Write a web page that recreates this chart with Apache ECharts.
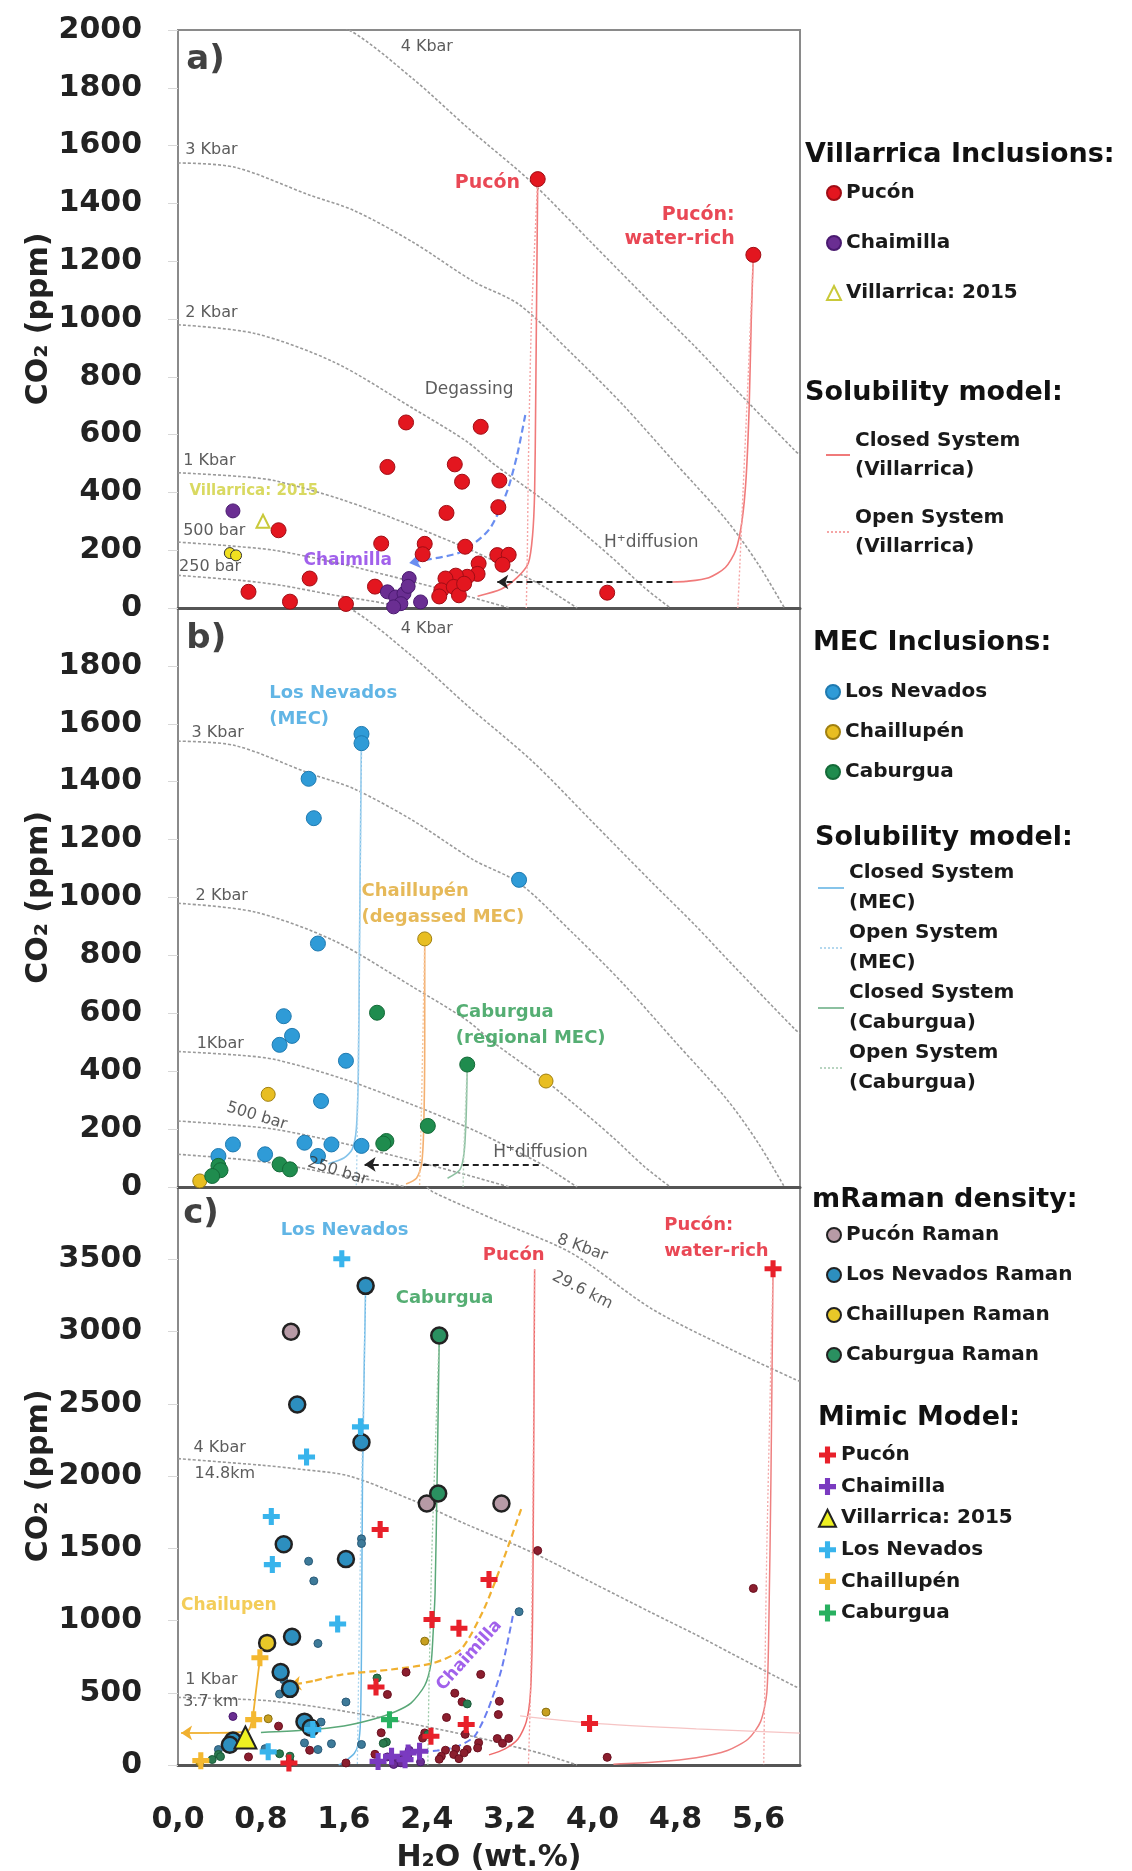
<!DOCTYPE html>
<html><head><meta charset="utf-8">
<script src="https://cdn.jsdelivr.net/npm/echarts@6/dist/echarts.min.js"></script>
<style>html,body{margin:0;padding:0;background:#fff}#c{width:1132px;height:1871px}</style>
</head><body><div id="c"></div>
<script>
// ---------- DATA (H2O wt.%, CO2 ppm) ----------
// panel a: Villarrica inclusions
const pucon = [[3.47,1484],[5.55,1222],[2.20,642],[2.92,627],[2.02,488],[2.67,497],[2.74,437],[3.10,441],[3.09,349],[2.59,329],[0.97,269],[1.96,223],[2.38,222],[2.36,186],[2.77,212],[3.08,183],[3.19,184],[3.13,150],[2.90,154],[2.89,118],[2.79,108],[2.68,112],[2.58,102],[2.54,61],[2.66,73],[2.71,44],[2.76,84],[1.27,102],[0.68,56],[1.08,22],[1.62,14],[1.90,74],[4.14,53],[2.52,40]];
const chaimilla = [[0.53,336],[2.23,102],[2.02,56],[2.10,38],[2.18,50],[2.34,21],[2.15,15],[2.08,4],[2.22,75]];
const villarrica2015 = [[0.82,300]];
const villarricaSamples = [[0.50,190],[0.56,182]];
// panel b: MEC inclusions
const losNevados = [[1.77,1565],[1.77,1533],[1.26,1410],[1.31,1274],[3.29,1061],[1.35,841],[1.02,590],[1.10,522],[0.98,491],[1.62,436],[1.38,297],[0.53,147],[0.84,113],[1.22,153],[1.48,147],[1.35,107],[1.77,142],[0.39,107]];
const chaillupen = [[2.38,857],[0.87,320],[3.55,366],[0.21,21]];
const caburgua = [[1.92,602],[2.79,423],[2.41,211],[2.01,159],[1.98,150],[0.98,78],[1.08,61],[0.39,73],[0.41,58],[0.33,38]];
// panel c: Raman density
const puconRaman = [[1.09,2998],[2.40,1810],[3.12,1810]];
const losNevadosRaman = [[1.81,3316],[1.15,2495],[1.77,2233],[1.02,1528],[1.62,1425],[1.10,887],[0.99,643],[1.08,527],[1.22,300],[1.28,258],[0.53,170],[0.50,140]];
const chaillupenRaman = [[0.86,845]];
const caburguaRaman = [[2.52,2972],[2.51,1879]];
// panel c: MIMIC model
const puconMimic = [[5.74,3434],[1.95,1630],[3.00,1284],[2.45,1007],[2.71,946],[1.91,540],[2.78,280],[3.97,287],[2.44,199],[1.07,14]];
const chaimillaMimic = [[1.93,25],[2.06,60],[2.22,83],[2.33,95],[2.19,37]];
const villarricaMimic = [[0.65,190]];
const losNevadosMimic = [[1.58,3503],[1.76,2340],[1.24,2131],[0.90,1720],[0.91,1387],[1.54,976],[1.30,245],[0.87,91]];
const chaillupenMimic = [[0.79,742],[0.22,30],[0.73,314]];
const caburguaMimic = [[2.04,314]];
// isobars
const iso250 = [[0,113],[0.62,95],[1.0,78],[1.5,45],[1.9,22],[2.2,0]];
const iso500 = [[0,228],[0.5,215],[0.94,199],[1.58,152],[2.22,95],[2.7,50],[3.0,20],[3.2,0]];
const iso1k = [[0,468],[0.6,455],[0.94,440],[1.58,375],[2.22,290],[2.86,195],[3.2,135],[3.5,80],[3.7,35],[3.85,0]];
const iso2k = [[0,980],[0.74,950],[1.51,850],[2.27,690],[2.79,575],[3.04,500],[3.5,380],[3.81,290],[4.2,170],[4.5,70],[4.75,0]];
const iso3k = [[0,1540],[0.55,1525],[1.26,1430],[1.7,1375],[2.27,1265],[2.85,1130],[3.29,1050],[3.8,880],[4.3,700],[4.8,500],[5.3,300],[5.6,150],[5.85,0]];
const iso4k = [[0,2120],[0.8,2075],[1.2,2045],[1.65,2000],[2.27,1830],[2.8,1660],[3.42,1470],[4.0,1260],[4.57,1053],[5.0,900],[5.34,771],[5.95,545],[6.0,530]];
const iso8k = [[2.4,4000],[2.46,3965],[3.1,3760],[3.8,3541],[4.57,3157],[5.34,2874],[5.95,2669],[6.0,2655]];
// degassing models, panel a
const puconClosedA = [[3.47,1484],[3.46,1100],[3.45,700],[3.44,400],[3.42,250],[3.38,156],[3.27,105],[3.12,66],[2.89,41]];
const puconOpenA = [[3.47,1484],[3.41,1000],[3.38,500],[3.37,200],[3.36,0]];
const waterRichClosedA = [[5.55,1222],[5.53,1000],[5.51,700],[5.48,450],[5.44,300],[5.38,200],[5.28,140],[5.12,105],[4.9,92],[4.77,90]];
const waterRichOpenA = [[5.55,1222],[5.50,800],[5.45,400],[5.42,150],[5.40,0]];
const chaimillaPathA = [[3.35,668],[3.27,527],[3.17,399],[3.0,271],[2.73,194],[2.43,169]];
const chaimillaArrowA = [[2.43,169],[2.23,156]];
const hDiffusionA = [[4.77,90],[3.08,90]];
// panel b
const lnClosedB = [[1.77,1565],[1.76,1200],[1.75,800],[1.74,400],[1.72,200],[1.68,130],[1.6,100],[1.45,80]];
const lnOpenB = [[1.77,1533],[1.75,800],[1.73,200],[1.72,0]];
const chClosedB = [[2.38,857],[2.38,500],[2.37,200],[2.35,80],[2.3,30],[2.2,10]];
const chOpenB = [[2.38,857],[2.35,300],[2.33,0]];
const cabClosedB = [[2.79,423],[2.78,250],[2.76,120],[2.72,60],[2.6,30]];
const cabOpenB = [[2.79,423],[2.76,150],[2.75,0]];
const hDiffusionB = [[3.48,78],[1.80,78]];
// panel c
const lnClosedC = [[1.81,3316],[1.78,2000],[1.77,800],[1.76,300],[1.74,150],[1.7,80],[1.6,20],[1.55,0]];
const lnOpenC = [[1.81,3316],[1.76,1500],[1.74,500],[1.73,0]];
const cabClosedC = [[2.52,2972],[2.5,2000],[2.48,1200],[2.46,900],[2.44,700],[2.38,550],[2.25,430],[2.1,370],[1.9,320],[1.6,270],[1.2,240],[0.8,225]];
const cabOpenC = [[2.52,2972],[2.45,1500],[2.42,500],[2.41,0]];
const puconClosedC = [[3.44,3430],[3.43,2000],[3.42,1000],[3.40,500],[3.36,300],[3.28,180],[3.15,110],[3.0,70]];
const puconOpenC = [[3.44,3430],[3.42,1500],[3.4,500],[3.38,0]];
const waterRichClosedC = [[5.74,3434],[5.72,2000],[5.70,1000],[5.68,500],[5.62,300],[5.5,180],[5.3,100],[5.0,50],[4.6,20],[4.2,5]];
const waterRichOpenC = [[5.74,3434],[5.68,1500],[5.65,0]];
const chailDashC = [[3.31,1771],[3.14,1424],[2.95,1077],[2.73,800],[2.47,707],[2.06,661],[1.58,626],[1.3,580]];
const chailDashArrowC = [[1.3,580],[1.08,553]];
const chailSolidC = [[0.79,733],[0.75,500],[0.72,330],[0.68,240],[0.55,225],[0.3,222]];
const chailSolidArrowC = [[0.3,222],[0.03,222]];
const chaimillaPathC = [[3.23,1031],[3.12,661],[2.99,383],[2.86,199],[2.7,130],[2.5,100],[2.3,90]];
const faintPathC = [[3.3,340],[3.98,290],[5.0,250],[6.0,220]];
// axes
const xMin = 0, xMax = 6, xStep = 0.8;
const yMaxAB = 2000, yStepAB = 200, yMaxC = 4000, yStepC = 500;

// ---------- STYLE / LAYOUT ----------
const FONT = '"DejaVu Sans", sans-serif';
const PLUS = 'path://M35,0 H65 V35 H100 V65 H65 V100 H35 V65 H0 V35 H35 Z';
const DOTS = 'path://M0,0h2v2h-2z M4,0h2v2h-2z M8,0h2v2h-2z M12,0h2v2h-2z M16,0h2v2h-2z M20,0h2v2h-2z';
const isoStyle = {color:'#9a9a9a', width:1.6, type:[3,2]};

function line(name, data, i, color, width, type, z){
  return {type:'line', name:name, xAxisIndex:i, yAxisIndex:i, data:data, showSymbol:false, symbol:'none',
    smooth:0.25, silent:true, z:z||2, itemStyle:{color:color}, lineStyle:{color:color, width:width||1.5, type:type||'solid'}};
}
function arrow(data, i, color, width, type){
  return {type:'lines', coordinateSystem:'cartesian2d', xAxisIndex:i, yAxisIndex:i, silent:true, z:3,
    symbol:['none','arrow'], symbolSize:11,
    lineStyle:{color:color, width:width||2, type:type||'dashed', opacity:1},
    data:[{coords:data}]};
}
function dots(name, data, i, color, border, size, symbol, bw){
  return {type:'scatter', name:name, xAxisIndex:i, yAxisIndex:i, data:data, symbol:symbol||'circle',
    symbolSize:size, silent:true, z:5,
    itemStyle:{color:color, borderColor:border, borderWidth:bw==null?1:bw, opacity:1}};
}
function labels(list, i){
  return {type:'scatter', xAxisIndex:i, yAxisIndex:i, symbolSize:1, silent:true, clip:false, z:10,
    itemStyle:{color:'rgba(0,0,0,0)'},
    data:list.map(l=>({value:[l.x,l.y], label:{show:true, position:'inside', formatter:l.t,
      align:l.al||'left', verticalAlign:'middle', rotate:l.r||0, color:l.c||'#333',
      fontSize:l.s||16, fontWeight:l.b?'bold':'normal', fontFamily:FONT, lineHeight:l.lh||(l.s||16)+4}}))};
}
function isos(list, i){ return list.map(d=>({type:'line', xAxisIndex:i, yAxisIndex:i, data:d, showSymbol:false, symbol:'none', smooth:0.3, silent:true, z:1, lineStyle:isoStyle})); }

const labelsA = [
 {t:'a)', x:0.08, y:1895, s:34, b:1, c:'#111'},
 {t:'4 Kbar', x:2.40, y:1941, al:'center'},
 {t:'3 Kbar', x:0.07, y:1587},
 {t:'2 Kbar', x:0.07, y:1020},
 {t:'1 Kbar', x:0.05, y:508},
 {t:'500 bar', x:0.05, y:268},
 {t:'250 bar', x:0.01, y:143},
 {t:'Villarrica: 2015', x:0.11, y:405, c:'#cfcf3a', b:1, s:15},
 {t:'Pucón', x:3.30, y:1472, al:'right', c:'#e31a2a', b:1, s:19},
 {t:'Pucón:\nwater-rich', x:5.37, y:1318, al:'right', c:'#e31a2a', b:1, s:19, lh:24},
 {t:'Degassing', x:2.38, y:757, s:17},
 {t:'H⁺diffusion', x:4.11, y:226, s:17},
 {t:'Chaimilla', x:1.21, y:165, c:'#8a3ae6', b:1, s:17}
];
const labelsB = [
 {t:'b)', x:0.08, y:1891, s:34, b:1, c:'#111'},
 {t:'4 Kbar', x:2.40, y:1929, al:'center'},
 {t:'Los Nevados\n(MEC)', x:0.88, y:1661, c:'#3aa2de', b:1, s:18, lh:26},
 {t:'3 Kbar', x:0.13, y:1568},
 {t:'2 Kbar', x:0.17, y:1004},
 {t:'1Kbar', x:0.18, y:496},
 {t:'500 bar', x:0.76, y:245, al:'center', r:-17},
 {t:'250 bar', x:1.54, y:54, al:'center', r:-17},
 {t:'Chaillupén\n(degassed MEC)', x:1.77, y:978, c:'#e0a830', b:1, s:18, lh:26},
 {t:'Caburgua\n(regional MEC)', x:2.68, y:557, c:'#2a9a50', b:1, s:18, lh:26},
 {t:'H⁺diffusion', x:3.04, y:118, s:17}
];
const labelsC = [
 {t:'c)', x:0.05, y:3811, s:34, b:1, c:'#111'},
 {t:'Los Nevados', x:0.99, y:3700, c:'#3aa2de', b:1, s:18},
 {t:'Caburgua', x:2.10, y:3233, c:'#2a9a50', b:1, s:18},
 {t:'Pucón', x:2.94, y:3528, c:'#e31a2a', b:1, s:18},
 {t:'Pucón:\nwater-rich', x:4.69, y:3644, c:'#e31a2a', b:1, s:18, lh:26},
 {t:'8 Kbar', x:3.90, y:3580, al:'center', r:-20},
 {t:'29.6 km', x:3.90, y:3285, al:'center', r:-27},
 {t:'4 Kbar', x:0.15, y:2195},
 {t:'14.8km', x:0.16, y:2015},
 {t:'Chailupen', x:0.03, y:1105, c:'#f0c030', b:1, s:17},
 {t:'Chaimilla', x:2.81, y:758, c:'#8a3ae6', b:1, s:17, al:'center', r:48},
 {t:'1 Kbar', x:0.07, y:592},
 {t:'3.7 km', x:0.05, y:438}
];

const series = [].concat(
  // panel a
  isos([iso250, iso500, iso1k, iso2k, iso3k, iso4k], 0),
  [
  line('Closed System (Villarrica)', puconClosedA, 0, '#f07a7a', 1.6),
  line('Closed System (Villarrica)', waterRichClosedA, 0, '#f07a7a', 1.6),
  line('Open System (Villarrica)', puconOpenA, 0, '#f5a5a5', 1.4, [2,2]),
  line('Open System (Villarrica)', waterRichOpenA, 0, '#f5a5a5', 1.4, [2,2]),
  line('chaimilla-path-a', chaimillaPathA, 0, '#6a8ef0', 2.2, [7,4]),
  arrow(chaimillaArrowA, 0, '#6a8ef0', 2.2, [7,4]),
  arrow(hDiffusionA, 0, '#222', 2, [6,4]),
  dots('Pucón', pucon, 0, '#e3161f', '#a00d15', 15),
  dots('Chaimilla', chaimilla, 0, '#6a2e92', '#4a1a70', 14),
  dots('Villarrica: 2015', villarrica2015, 0, 'rgba(255,255,255,0)', '#c9c93a', 13, 'triangle', 2),
  dots('villarrica-samples', villarricaSamples, 0, '#f0e020', '#333', 11),
  labels(labelsA, 0)
  ],
  // panel b
  isos([iso250, iso500, iso1k, iso2k, iso3k, iso4k], 1),
  [
  line('Closed System (MEC)', lnClosedB, 1, '#86c4ea', 1.6),
  line('Closed System (MEC)', chClosedB, 1, '#f4b070', 1.6),
  line('Open System (MEC)', lnOpenB, 1, '#b4d8ee', 1.4, [2,2]),
  line('Open System (MEC)', chOpenB, 1, '#f6c8a0', 1.4, [2,2]),
  line('Closed System (Caburgua)', cabClosedB, 1, '#8cc0a0', 1.6),
  line('Open System (Caburgua)', cabOpenB, 1, '#b8d4c0', 1.4, [2,2]),
  arrow(hDiffusionB, 1, '#222', 2, [6,4]),
  dots('Los Nevados', losNevados, 1, '#2f9bd7', '#1f7ab0', 15),
  dots('Chaillupén', chaillupen, 1, '#e8be22', '#a08010', 14),
  dots('Caburgua', caburgua, 1, '#1f8c4e', '#146a38', 15),
  labels(labelsB, 1)
  ],
  // panel c
  isos([iso1k, iso4k, iso8k], 2),
  [
  line('ln-closed-c', lnClosedC, 2, '#6ab8e6', 1.5),
  line('ln-open-c', lnOpenC, 2, '#a8d4ee', 1.3, [2,2]),
  line('cab-closed-c', cabClosedC, 2, '#5aa878', 1.5),
  line('cab-open-c', cabOpenC, 2, '#9ccaa8', 1.3, [2,2]),
  line('pucon-closed-c', puconClosedC, 2, '#ee6b6b', 1.5),
  line('pucon-open-c', puconOpenC, 2, '#f3a0a0', 1.3, [2,2]),
  line('wr-closed-c', waterRichClosedC, 2, '#ee8080', 1.5),
  line('wr-open-c', waterRichOpenC, 2, '#f3a8a8', 1.3, [2,2]),
  line('faint-c', faintPathC, 2, '#f6c4c4', 1.2),
  line('chail-dash-c', chailDashC, 2, '#f0b030', 2.2, [7,4]),
  arrow(chailDashArrowC, 2, '#f0b030', 2.2, [7,4]),
  line('chail-solid-c', chailSolidC, 2, '#f0b030', 1.8),
  arrow(chailSolidArrowC, 2, '#f0b030', 1.8, 'solid'),
  line('chaimilla-path-c', chaimillaPathC, 2, '#6a7ef0', 2, [7,4]),
  dots('pucon-small', pucon, 2, '#8b1e2e', '#6a1020', 8),
  dots('chaimilla-small', chaimilla, 2, '#6a2e92', '#4a1a70', 8),
  dots('ln-small', losNevados, 2, '#3d7a99', '#2a5a78', 8),
  dots('ch-small', chaillupen, 2, '#c8a020', '#8a7010', 8),
  dots('cab-small', caburgua, 2, '#2a7a50', '#1a5a38', 8),
  dots('Pucón Raman', puconRaman, 2, '#b79aa6', '#222', 16, 'circle', 2.5),
  dots('Los Nevados Raman', losNevadosRaman, 2, '#2d8fbf', '#222', 16, 'circle', 2.5),
  dots('Chaillupen Raman', chaillupenRaman, 2, '#e8c828', '#222', 16, 'circle', 2.5),
  dots('Caburgua Raman', caburguaRaman, 2, '#2a9060', '#222', 16, 'circle', 2.5),
  dots('Pucón (Mimic)', puconMimic, 2, '#e8202a', '#e8202a', 17, PLUS, 0),
  dots('Chaimilla (Mimic)', chaimillaMimic, 2, '#7a3ac0', '#7a3ac0', 17, PLUS, 0),
  dots('Villarrica: 2015 (Mimic)', villarricaMimic, 2, '#eef022', '#222', 22, 'triangle', 2),
  dots('Los Nevados (Mimic)', losNevadosMimic, 2, '#38b4ec', '#38b4ec', 17, PLUS, 0),
  dots('Chaillupén (Mimic)', chaillupenMimic, 2, '#f4b830', '#f4b830', 17, PLUS, 0),
  dots('Caburgua (Mimic)', caburguaMimic, 2, '#28b060', '#28b060', 17, PLUS, 0),
  labels(labelsC, 2)
  ]
);

const gridTops = [30, 608, 1187];
const gridHeights = [578, 579, 578];
const grids = gridTops.map((t,i)=>({left:178, top:t, width:622, height:gridHeights[i], show:true,
  borderColor:'#8a8a8a', borderWidth:2, backgroundColor:'#fff', containLabel:false, outerBoundsMode:'none'}));

const fmtX = v => v.toFixed(1).replace('.', ',');
const xAxes = [0,1,2].map(i=>({gridIndex:i, type:'value', min:xMin, max:xMax, interval:xStep,
  axisLine:{show:true, onZero:false, lineStyle:{color:'#555', width:3}},
  axisTick:{show:false}, splitLine:{show:false},
  axisLabel:{show:i===2, formatter:fmtX, fontSize:30, fontWeight:'bold', color:'#222', fontFamily:FONT,
    margin:40, showMaxLabel:false, hideOverlap:false},
  name: i===2 ? 'H₂O (wt.%)' : '', nameLocation:'middle', nameGap:78, nameMoveOverlap:false,
  nameTextStyle:{fontSize:30, fontWeight:'bold', color:'#222', fontFamily:FONT}}));
const yAxes = [0,1,2].map(i=>({gridIndex:i, type:'value', min:0, max:i===2?yMaxC:yMaxAB, interval:i===2?yStepC:yStepAB,
  axisLine:{show:false}, splitLine:{show:false},
  axisTick:{show:true, length:10, lineStyle:{color:'#d8d8d8'}},
  axisLabel:{formatter:v=>String(v), fontSize:30, fontWeight:'bold', color:'#222', fontFamily:FONT, margin:36,
    showMaxLabel:i===0, hideOverlap:false},
  name:'CO₂ (ppm)', nameLocation:'middle', nameRotate:90, nameGap:124, nameMoveOverlap:false,
  nameTextStyle:{fontSize:30, fontWeight:'bold', color:'#222', fontFamily:FONT}}));

const legText = {fontSize:20, fontWeight:'bold', color:'#1a1a1a', fontFamily:FONT, lineHeight:20};
const legText2 = Object.assign({}, legText, {lineHeight:29});
function legend(left, top, gap, names, opts){
  return Object.assign({show:true, orient:'vertical', left:left, top:top, itemGap:gap, itemWidth:14, itemHeight:14,
    selectedMode:false, padding:0, textStyle:legText, data:names}, opts||{});
}
const splitName = n => n.replace(' (', '\n(');
const legends = [
  legend(826, 183, 30, ['Pucón','Chaimilla','Villarrica: 2015']),
  legend(826, 426, 19, [{name:'Closed System (Villarrica)', icon:'rect'},{name:'Open System (Villarrica)', icon:DOTS}],
    {itemWidth:24, itemHeight:2, textStyle:legText2, formatter:splitName}),
  legend(825, 682, 20, ['Los Nevados','Chaillupén','Caburgua']),
  legend(818, 858, 0, [{name:'Closed System (MEC)', icon:'rect'},{name:'Open System (MEC)', icon:DOTS},{name:'Closed System (Caburgua)', icon:'rect'},{name:'Open System (Caburgua)', icon:DOTS}],
    {itemWidth:26, itemHeight:2, textStyle:Object.assign({}, legText, {lineHeight:30}), formatter:splitName}),
  legend(826, 1225, 20, ['Pucón Raman','Los Nevados Raman','Chaillupen Raman','Caburgua Raman']),
  legend(818, 1445, 11.6, ['Pucón (Mimic)','Chaimilla (Mimic)','Villarrica: 2015 (Mimic)','Los Nevados (Mimic)','Chaillupén (Mimic)','Caburgua (Mimic)'], {itemWidth:17, itemHeight:17, formatter:n=>n.replace(' (Mimic)','')})
];

const headFont = 'bold 27px "DejaVu Sans", sans-serif';
const headers = [
  ['Villarrica Inclusions:', 805, 157], ['Solubility model:', 805, 395], ['MEC Inclusions:', 813, 645],
  ['Solubility model:', 815, 840], ['mRaman density:', 812, 1202], ['Mimic Model:', 818, 1420]
].map(h=>({type:'text', left:h[1], top:h[2]-16, silent:true, style:{text:h[0], font:headFont, fill:'#111'}}));

const chart = echarts.init(document.getElementById('c'), null, {renderer:'canvas'});
chart.setOption({
  animation:false, backgroundColor:'#fff',
  grid:grids, xAxis:xAxes, yAxis:yAxes, legend:legends, graphic:headers, series:series
});
</script></body></html>
